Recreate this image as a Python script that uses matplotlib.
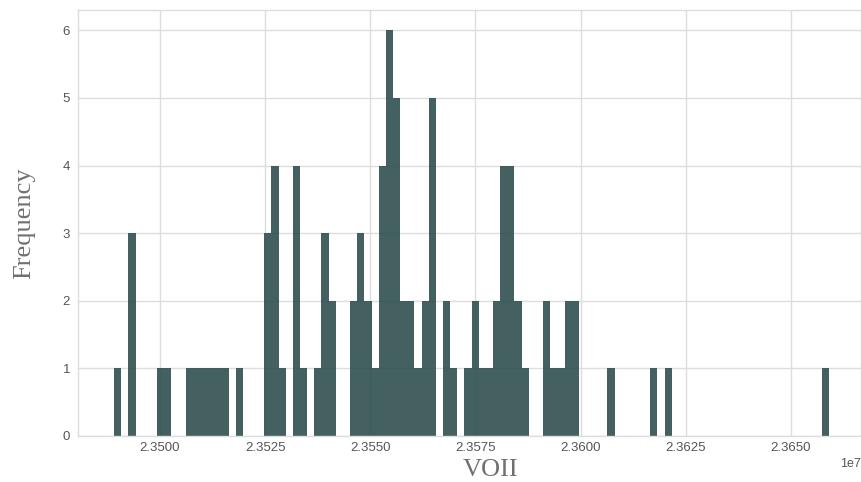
import numpy as np
import matplotlib
matplotlib.use('Agg')
import matplotlib.pyplot as plt
from matplotlib.ticker import MultipleLocator

# histogram: 100 bins, 100 values
bin_start = 23489100
bin_width = 1700
counts = [1, 0, 3, 0, 0, 0, 1, 1, 0, 0,
          1, 1, 1, 1, 1, 1, 0, 1, 0, 0,
          0, 3, 4, 1, 0, 4, 1, 0, 1, 3,
          2, 0, 0, 2, 3, 2, 1, 4, 6, 5,
          2, 2, 1, 2, 5, 0, 2, 1, 0, 1,
          2, 1, 1, 2, 4, 4, 2, 1, 0, 0,
          2, 1, 1, 2, 2, 0, 0, 0, 0, 1,
          0, 0, 0, 0, 0, 1, 0, 1, 0, 0,
          0, 0, 0, 0, 0, 0, 0, 0, 0, 0,
          0, 0, 0, 0, 0, 0, 0, 0, 0, 1]

edges = bin_start + bin_width * np.arange(len(counts) + 1)
centers = (edges[:-1] + edges[1:]) / 2

plt.style.use('seaborn-v0_8-whitegrid')
plt.rcParams['font.family'] = ['Liberation Sans', 'DejaVu Sans']

fig = plt.figure(figsize=(8.61, 4.82), dpi=100)
ax = fig.add_axes([78.4 / 861, 46 / 482, (861 - 78.4) / 861, 426 / 482])

ax.hist(centers, bins=edges, weights=counts, color='darkslategray', alpha=0.9,
        linewidth=0)

ax.set_xlim(23480600, 23666700)
ax.set_ylim(0, 6.3)
ax.xaxis.set_major_locator(MultipleLocator(25000))
ax.yaxis.set_major_locator(MultipleLocator(1))
ax.ticklabel_format(axis='x', useOffset=False)

ax.grid(True, color='#dddddd', linewidth=1)
for s in ax.spines.values():
    s.set_visible(True)
    s.set_color('#dddddd')
    s.set_linewidth(1)
ax.tick_params(labelsize=9.5, labelcolor='#555555', length=0)
ax.tick_params(axis='x', pad=4)
ax.tick_params(axis='y', pad=6)
ax.xaxis.get_offset_text().set_fontsize(9)
ax.xaxis.get_offset_text().set_color('#555555')

ax.set_ylabel('Frequency', family='Liberation Serif', fontsize=19, color='#707070')
ax.set_xlabel('VOII', family='Liberation Serif', fontsize=19, color='#707070')
ax.yaxis.set_label_coords(-0.055, 0.5)
ax.xaxis.set_label_coords(0.526, -0.055)

fig.savefig('out.png', dpi=100)
